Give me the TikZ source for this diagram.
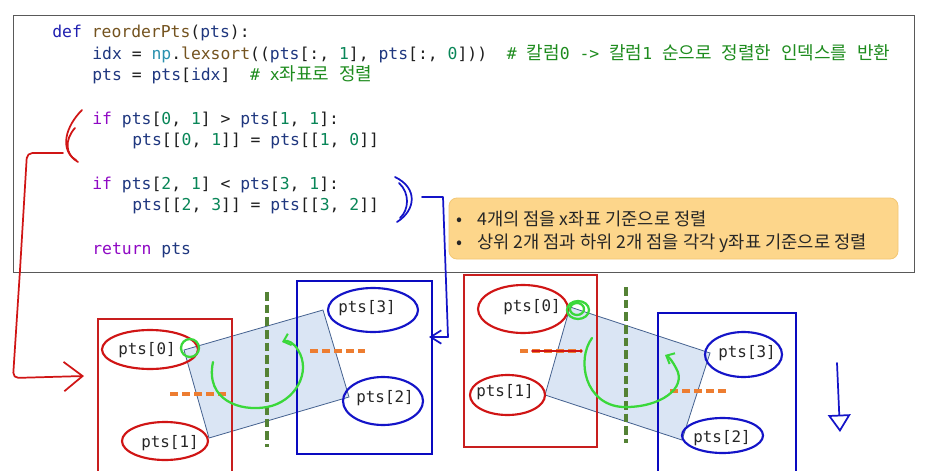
\documentclass[tikz,border=0pt]{standalone}
\usepackage{fontspec}
\usepackage{tikz}
\usetikzlibrary{arrows.meta}
\newfontfamily\codefont{DejaVu Sans Mono}
\newfontfamily\hangulfont{Noto Sans CJK KR}

\definecolor{codeframe}{HTML}{595959}
\definecolor{kwblue}{HTML}{1F1FB0}
\definecolor{fnbrown}{HTML}{74531F}
\definecolor{varnavy}{HTML}{1F377F}
\definecolor{modteal}{HTML}{2B91AF}
\definecolor{numgreen}{HTML}{098658}
\definecolor{ctlpurple}{HTML}{8F08C4}
\definecolor{cmtgreen}{HTML}{1E8C1E}
\definecolor{punct}{HTML}{1E1E1E}
\definecolor{notefill}{HTML}{FDD68B}
\definecolor{noteedge}{HTML}{F3C774}
\definecolor{redink}{HTML}{D01515}
\definecolor{blueink}{HTML}{1414C8}
\definecolor{redframe}{HTML}{C81E1E}
\definecolor{blueframe}{HTML}{0A0AC0}
\definecolor{greenpen}{HTML}{3AD83A}
\definecolor{guidegreen}{HTML}{548235}
\definecolor{midorange}{HTML}{ED7D31}
\definecolor{tiltfill}{HTML}{DAE5F4}
\definecolor{tiltedge}{HTML}{44618F}

\newcommand{\hangul}[1]{{\hangulfont\fontsize{13.5pt}{14pt}\selectfont #1}}
\newcommand{\codekw}[1]{\textcolor{kwblue}{#1}}
\newcommand{\codefn}[1]{\textcolor{fnbrown}{#1}}
\newcommand{\codevar}[1]{\textcolor{varnavy}{#1}}
\newcommand{\codemod}[1]{\textcolor{modteal}{#1}}
\newcommand{\codenum}[1]{\textcolor{numgreen}{#1}}
\newcommand{\codectl}[1]{\textcolor{ctlpurple}{#1}}
\newcommand{\codecmt}[1]{\textcolor{cmtgreen}{#1}}

\tikzset{
  codeline/.style={anchor=base west, inner sep=0.75pt, text=punct, font=\codefont\fontsize{12.3pt}{14pt}\selectfont},
  notetext/.style={anchor=base west, inner sep=0pt, text=black!85, font=\hangulfont\fontsize{13.25pt}{15pt}\selectfont},
  ptlabel/.style={inner sep=0.75pt, text=black!85, font=\codefont\fontsize{11.9pt}{14pt}\selectfont},
  redring/.style={draw=redink, line width=1.6pt},
  bluering/.style={draw=blueink, line width=1.6pt},
  redpen/.style={draw=redink, line width=1.3pt, line cap=round, line join=round},
  bluepen/.style={draw=blueink, line width=1.3pt, line cap=round, line join=round},
  greenloop/.style={draw=greenpen, line width=1.7pt, line cap=round},
  guide/.style={draw=guidegreen, line width=2.3pt, dash pattern=on 6.5pt off 3pt},
  midline/.style={draw=midorange, line width=2.4pt, dash pattern=on 6pt off 3pt},
  tiltbox/.style={fill=tiltfill, draw=tiltedge, line width=0.6pt},
}

\begin{document}
\begin{tikzpicture}[x=0.75pt,y=0.75pt,yscale=-1,xscale=1]
        \useasboundingbox (0,0) rectangle (928,471);
        \fill[white] (0,0) rectangle (928,471);

        %Shape: Rectangle [code frame]
        \draw [codeframe, line width=1.1pt] (13.5,15.7) rectangle (914.7,272.7) ;

        % Text Node
        \draw (51,37.5) node (defLine) [codeline] {\codekw{def} \codefn{reorderPts}(\codevar{pts}):};
        % Text Node
        \draw (91,59.1) node (idxLine) [codeline] {\codevar{idx} = \codemod{np}.\codefn{lexsort}((\codevar{pts}[:, \codenum{1}], \codevar{pts}[:, \codenum{0}]))\ \ \codecmt{\# \hangul{칼럼}0 -> \hangul{칼럼}1 \hangul{순으로} \hangul{정렬한} \hangul{인덱스를} \hangul{반환}}};
        % Text Node
        \draw (91,80.8) node (sortLine) [codeline] {\codevar{pts} = \codevar{pts}[\codevar{idx}]\ \ \codecmt{\# x\hangul{좌표로} \hangul{정렬}}};
        % Text Node
        \draw (91,124.1) node (ifTop) [codeline] {\codectl{if} \codevar{pts}[\codenum{0}, \codenum{1}] > \codevar{pts}[\codenum{1}, \codenum{1}]:};
        % Text Node
        \draw (131,145.8) node (swapTop) [codeline] {\codevar{pts}[[\codenum{0}, \codenum{1}]] = \codevar{pts}[[\codenum{1}, \codenum{0}]]};
        % Text Node
        \draw (91,189.1) node (ifBottom) [codeline] {\codectl{if} \codevar{pts}[\codenum{2}, \codenum{1}] < \codevar{pts}[\codenum{3}, \codenum{1}]:};
        % Text Node
        \draw (131,210.8) node (swapBottom) [codeline] {\codevar{pts}[[\codenum{2}, \codenum{3}]] = \codevar{pts}[[\codenum{3}, \codenum{2}]]};
        % Text Node
        \draw (91,254.1) node (retLine) [codeline] {\codectl{return} \codevar{pts}};

        %Shape: Rounded Rectangle [note]
        \draw [fill=notefill, draw=noteedge, line width=0.6pt, rounded corners=6pt] (449,198) rectangle (898,259) ;
        % Text Node
        \draw (456,225) node (noteA) [notetext] {\makebox[15.75pt][l]{•}4개의 점을 x좌표 기준으로 정렬};
        % Text Node
        \draw (456,248) node (noteB) [notetext] {\makebox[15.75pt][l]{•}상위 2개 점과 하위 2개 점을 각각 y좌표 기준으로 정렬};

        %Hand brackets
        \draw [redpen] (82,110) .. controls (66,126) and (58,150) .. (78,162) ;
        \draw [redpen] (75,128) .. controls (64,140) and (66,155) .. (76,160) ;
        \draw [bluepen] (395,177) .. controls (418,188) and (416,210) .. (397,222) ;
        \draw [bluepen] (399,183) .. controls (410,193) and (409,210) .. (400,218) ;

        \coordinate (ifBrk) at (63,153);
        \coordinate (leftIn) at (84,376);
        \coordinate (elseBrk) at (422,197);
        \coordinate (rightIn) at (429,337);
        \coordinate (downTop) at (837,363);
        \coordinate (downEnd) at (840,432);

        %Hand connectors
        \draw [redpen, rounded corners=4pt, -{Straight Barb[length=14pt,width=22pt,line width=1.3pt]}] (ifBrk) -- (27,153) -- (20,270) -- (13,378) -- (leftIn) ;
        \draw [bluepen, -{Straight Barb[length=8pt,width=10pt,line width=1.3pt]}] (elseBrk) -- (443,197) -- (448,337) -- (rightIn) ;
        \draw [bluepen, -{Triangle[open,length=13pt,width=17pt,line width=1.3pt]}] (downTop) -- (downEnd) ;

        %Shape: Tilted boxes
        \draw [tiltbox] (184,350) -- (323,310) -- (349,397) -- (209,438) -- cycle ;
        \draw [tiltbox] (570,307) -- (710,353) -- (682,440) -- (545,395) -- cycle ;

        %Shape: Frames
        \draw [redframe, line width=1.3pt] (98,471) -- (98,319) -- (232,319) -- (232,471) ;
        \draw [blueframe, line width=1.3pt] (297,281) rectangle (432,454) ;
        \draw [redframe, line width=1.3pt] (464,275) rectangle (597,447) ;
        \draw [blueframe, line width=1.3pt] (658,471) -- (658,313) -- (796,313) -- (796,471) ;

        %Straight Lines [guides]
        \draw [guide] (267,292) -- (267,447) ;
        \draw [guide] (626,287) -- (626,443) ;
        \draw [midline] (170,394) -- (228,394) ;
        \draw [midline] (310,351) -- (365,351) ;
        \draw [midline] (520,351) -- (582,351) ;
        \draw [redpen] (532,351) -- (582,351) ;
        \draw [midline] (670,391) -- (728,391) ;

        %Shape: Rings
        \draw [redring] (150,349.5) ellipse [x radius=48, y radius=19.5] ;
        \draw [redring] (165,441) ellipse [x radius=43, y radius=19] ;
        \draw [bluering] (373,310) ellipse [x radius=45, y radius=22] ;
        \draw [bluering] (383,401) ellipse [x radius=40, y radius=24] ;
        \draw [redring] (523,309) ellipse [x radius=45, y radius=24] ;
        \draw [redring] (507.5,395) ellipse [x radius=37.5, y radius=20] ;
        \draw [bluering] (743.5,354.5) ellipse [x radius=38.5, y radius=22.5] ;
        \draw [bluering] (722.5,435.5) ellipse [x radius=40.5, y radius=17.5] ;

        % Text Node
        \draw (147,350) node (leftP0) [ptlabel] {pts[0]};
        % Text Node
        \draw (170,443) node (leftP1) [ptlabel] {pts[1]};
        % Text Node
        \draw (367,308) node (leftP3) [ptlabel] {pts[3]};
        % Text Node
        \draw (385,398) node (leftP2) [ptlabel] {pts[2]};
        % Text Node
        \draw (532,307) node (rightP0) [ptlabel] {pts[0]};
        % Text Node
        \draw (505,392) node (rightP1) [ptlabel] {pts[1]};
        % Text Node
        \draw (747,353) node (rightP3) [ptlabel] {pts[3]};
        % Text Node
        \draw (722,438) node (rightP2) [ptlabel] {pts[2]};

        %Green pen
        \draw [greenloop] (190,348) circle [radius=9] ;
        \draw [greenloop] (578,310) ellipse [x radius=11, y radius=9] ;
        \draw [greenloop] (577,309) ellipse [x radius=7, y radius=6] ;
        \draw [greenloop, -{Straight Barb[length=5pt,width=9pt,line width=1.5pt]}] (213,362) .. controls (205,400) and (240,412) .. (267,407) .. controls (295,402) and (312,372) .. (298,350) .. controls (294,343) and (288,340) .. (282,342) ;
        \draw [greenloop, -{Straight Barb[length=5pt,width=9pt,line width=1.5pt]}] (592,338) .. controls (576,360) and (585,405) .. (623,407) .. controls (660,408) and (688,388) .. (676,368) .. controls (673,362) and (669,357) .. (665,355) ;
    \end{tikzpicture}
\end{document}
